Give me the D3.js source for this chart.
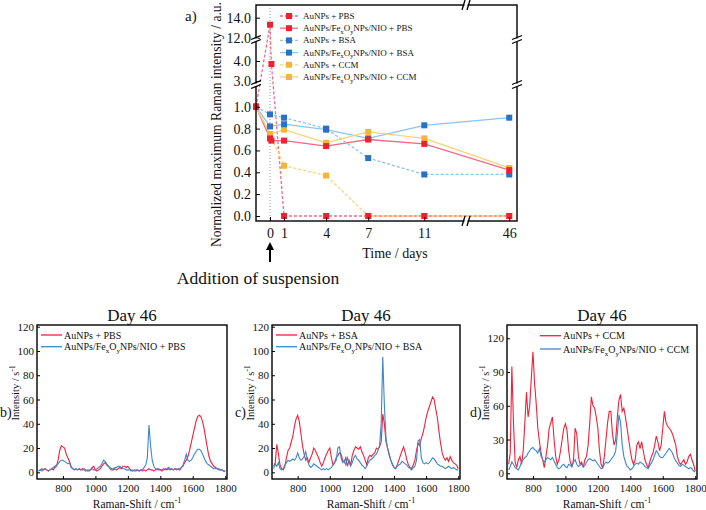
<!DOCTYPE html>
<html><head><meta charset="utf-8">
<script src="https://cdn.jsdelivr.net/npm/d3@7"></script>
<style>
body{margin:0;background:#fff}
svg{display:block}
text{font-family:"Liberation Serif","Times New Roman",serif;fill:#111}
</style>
</head><body><svg id="c" width="706" height="510"></svg>
<script>
// ---------- Panel a data ----------
const aDayTicks = [0, 1, 4, 7, 11, 46];
const aYTicks = [0, 0.2, 0.4, 0.6, 0.8, 1.0, 3.0, 4.0, 12.0, 14.0];
const aNames = ["AuNPs + PBS", "AuNPs/Fe_{x}O_{y}NPs/NIO + PBS", "AuNPs + BSA",
  "AuNPs/Fe_{x}O_{y}NPs/NIO + BSA", "AuNPs + CCM", "AuNPs/Fe_{x}O_{y}NPs/NIO + CCM"];
const pbsAuDays = [-1, 0, 0.1, 1, 4, 7, 11, 46];
const pbsAuVals = [1.0, 13.3, 3.85, 0, 0, 0, 0, 0];
const pbsFeDays = [-1, 0, 0.1, 1, 4, 7, 11, 46];
const pbsFeVals = [1.0, 0.71, 0.69, 0.69, 0.64, 0.70, 0.66, 0.42];
const bsaAuDays = [-1, 0, 1, 4, 7, 11, 46];
const bsaAuVals = [1.0, 0.93, 0.90, 0.80, 0.53, 0.38, 0.38];
const bsaFeDays = [-1, 0, 1, 4, 7, 11, 46];
const bsaFeVals = [1.0, 0.82, 0.84, 0.79, 0.71, 0.83, 0.90];
const ccmAuDays = [-1, 0, 1, 4, 7, 11, 46];
const ccmAuVals = [1.0, 0.75, 0.46, 0.37, 0, 0, 0];
const ccmFeDays = [-1, 0, 1, 4, 7, 11, 46];
const ccmFeVals = [1.0, 0.75, 0.79, 0.67, 0.77, 0.71, 0.44];

// ---------- Spectra data (Day 46) ----------
const shift = d3.range(650, 1801, 10);
const shiftTicks = [800, 1000, 1200, 1400, 1600, 1800];
const redB = [1,2,3,2,3,2,1,2,3,2, 4,5,10,18,22,21,20,15,12,9, 5,3,2,3,2,3,2,3,2,1,
  2,1,2,4,5,2,1,2,3,5, 7,8,6,5,3,2,2,3,2,3, 4,3,5,5,4,5,3,2,1,2,
  1,2,1,2,1,2,1,2,3,2, 2,1,2,3,2,2,1,2,3,2, 3,2,3,2,3,2,3,2,4,5,
  8,10,13,18,24,30,36,42,46,47, 46,42,36,28,20,13,9,7,5,4, 3,3,2,2,1,1];
const bluB = [1,2,1,2,3,2,1,2,3,4, 5,6,7,9,10,10,9,8,7,8, 4,3,2,3,2,3,2,2,3,2,
  1,2,2,3,2,2,3,4,5,7, 10,9,7,5,4,3,3,4,4,5, 5,4,3,3,2,2,2,1,2,1,
  2,2,1,2,2,4,6,12,39,22, 10,5,3,2,3,2,2,3,2,3, 4,3,3,2,3,3,2,3,4,6,
  10,15,10,9,10,12,15,17,19,19, 18,15,12,9,7,6,5,4,3,3, 3,2,2,2,1,1];
const redC = [5,8,23,15,6,3,2,5,12,18, 20,25,30,38,44,47,42,32,22,15, 10,12,8,12,15,20,18,15,12,8,
  5,8,12,15,18,20,12,6,8,12, 14,16,15,10,8,12,5,10,6,14, 18,21,20,19,21,17,14,10,6,12,
  14,13,15,16,20,19,21,25,48,40, 25,20,15,10,6,4,3,6,10,14, 18,21,16,10,6,4,3,6,10,18,
  24,22,28,32,38,45,50,54,58,62, 60,52,45,34,24,16,12,10,12,9, 13,10,8,7,6,3];
const bluC = [3,7,5,8,3,2,3,6,8,10, 9,10,11,10,12,16,12,10,11,13, 17,10,6,4,5,7,6,5,4,3,
  2,3,2,3,2,3,4,6,8,10, 20,21,12,8,10,6,12,8,5,8, 12,14,11,10,8,6,5,3,5,8,
  10,11,12,14,15,18,22,40,95,55, 28,20,14,10,7,4,3,5,6,7, 9,8,7,6,4,3,2,4,5,10,
  26,27,12,8,7,8,7,8,10,12, 11,9,7,6,5,5,4,3,4,5, 4,3,4,3,2,2];
const redD = [8,18,95,45,10,5,12,15,8,20, 45,72,50,60,85,108,80,62,40,28, 18,12,5,15,25,40,45,50,30,15,
  8,12,20,30,40,44,38,20,10,6, 12,40,35,15,8,10,5,12,15,25, 45,68,60,58,50,40,20,8,5,15,
  30,45,55,55,35,25,30,50,65,70, 55,58,50,40,30,20,12,8,12,25, 28,22,28,20,12,8,5,10,15,18,
  25,33,28,20,25,40,55,45,42,40, 38,35,30,25,15,10,8,10,12,8, 10,15,17,12,8,2];
const bluD = [3,6,10,8,5,4,3,6,10,12, 14,15,18,20,22,23,21,20,18,22, 15,12,10,12,14,13,12,14,11,8,
  5,4,5,7,8,6,5,8,7,6, 10,12,8,6,7,8,6,7,10,12, 13,12,11,12,10,8,6,4,5,8,
  10,9,10,12,14,16,20,35,52,45, 25,15,10,6,5,3,4,6,8,9, 8,10,9,8,6,5,4,7,9,12,
  16,20,18,15,14,14,16,18,20,22, 20,18,14,11,9,7,6,8,7,6, 5,4,5,4,2,1];
const namesB = ["AuNPs + PBS", "AuNPs/Fe_{x}O_{y}NPs/NIO + PBS"];
const namesC = ["AuNPs + BSA", "AuNPs/Fe_{x}O_{y}NPs/NIO + BSA"];
const namesD = ["AuNPs + CCM", "AuNPs/Fe_{x}O_{y}NPs/NIO + CCM"];
const ticksBC = [0, 20, 40, 60, 80, 100, 120];
const ticksD = [0, 30, 60, 90, 120];

// ---------- helpers ----------
const svg = d3.select("#c");
function rich(t, str, fs) {
  const parts = str.split(/([_^]\{[^}]*\})/).filter(s => s.length);
  let cur = 0;
  parts.forEach(p => {
    if (p[0] === "_" || p[0] === "^") {
      const d = p[0] === "_" ? fs * 0.3 : -fs * 0.4;
      t.append("tspan").attr("font-size", fs * 0.7).attr("dy", d - cur).text(p.slice(2, -1));
      cur = d;
    } else {
      t.append("tspan").attr("dy", -cur).text(p);
      cur = 0;
    }
  });
}
function styleAxis(g, fs) {
  g.select(".domain").remove();
  g.selectAll("line").attr("stroke", "#000").attr("stroke-width", 1);
  g.selectAll("text").attr("font-size", fs).attr("fill", "#111")
    .style("font-family", '"Liberation Serif","Times New Roman",serif');
}

// ---------- Panel a ----------
const aL = 256, aR = 517, aT = 5, aB = 221;
const ax = d3.scaleLinear().domain([-1, 13.9, 43, 46.55]).range([aL, 465, 467, aR]);
const ay = d3.scaleLinear().domain([-0.046, 1.19, 2.85, 5.0, 11.87, 15.27]).range([aB, 86, 84, 41, 39, aT]);
const gA = svg.append("g");
gA.append("line").attr("x1", ax(0)).attr("x2", ax(0)).attr("y1", aT).attr("y2", aB)
  .attr("stroke", "#9a9a9a").attr("stroke-width", 1).attr("stroke-dasharray", "1,2");

const aSeries = [
  {days: pbsAuDays, vals: pbsAuVals, line: "#f06a85", mark: "#f0202f", dash: true},
  {days: pbsFeDays, vals: pbsFeVals, line: "#f06a85", mark: "#f0202f", dash: false},
  {days: bsaAuDays, vals: bsaAuVals, line: "#8cc4ea", mark: "#2a70c4", dash: true},
  {days: bsaFeDays, vals: bsaFeVals, line: "#8cc4ea", mark: "#2a70c4", dash: false},
  {days: ccmAuDays, vals: ccmAuVals, line: "#fbd277", mark: "#f5b43a", dash: true},
  {days: ccmFeDays, vals: ccmFeVals, line: "#fbd277", mark: "#f5b43a", dash: false}
];
const lineGen = d3.line().x(d => ax(d[0])).y(d => ay(d[1]));
aSeries.forEach(s => {
  gA.append("path").datum(s.days.map((d, i) => [d, s.vals[i]]))
    .attr("d", lineGen).attr("fill", "none").attr("stroke", s.line).attr("stroke-width", 1.3)
    .attr("stroke-dasharray", s.dash ? "3,2" : null);
});
aSeries.slice().reverse().forEach(s => {
  gA.selectAll(null).data(s.days.map((d, i) => [d, s.vals[i]])).enter().append("rect")
    .attr("x", d => ax(d[0]) - 3).attr("y", d => ay(d[1]) - 3).attr("width", 6).attr("height", 6)
    .attr("fill", s.mark);
});
// axes
const gAy = gA.append("g").attr("transform", `translate(${aL},0)`)
  .call(d3.axisLeft(ay).tickValues(aYTicks).tickFormat(d3.format(".1f")).tickSizeInner(-4).tickSizeOuter(0).tickPadding(5));
styleAxis(gAy, 14);
const gAx = gA.append("g").attr("transform", `translate(0,${aB})`)
  .call(d3.axisBottom(ax).tickValues(aDayTicks).tickFormat(d3.format("d")).tickSizeInner(-4).tickSizeOuter(0).tickPadding(7));
styleAxis(gAx, 14);
gA.append("rect").attr("x", aL).attr("y", aT).attr("width", aR - aL).attr("height", aB - aT)
  .attr("fill", "none").attr("stroke", "#000").attr("stroke-width", 1.4);
// breaks
function vBreak(x, y) {
  gA.append("rect").attr("x", x - 2).attr("y", y - 1.5).attr("width", 4).attr("height", 3).attr("fill", "#fff");
  gA.append("line").attr("x1", x - 5).attr("y1", y - 0.5).attr("x2", x + 5).attr("y2", y - 4.5).attr("stroke", "#000").attr("stroke-width", 1.3);
  gA.append("line").attr("x1", x - 5).attr("y1", y + 3.5).attr("x2", x + 5).attr("y2", y - 0.5).attr("stroke", "#000").attr("stroke-width", 1.3);
}
function hBreak(x, y) {
  gA.append("rect").attr("x", x - 1.5).attr("y", y - 2).attr("width", 3).attr("height", 4).attr("fill", "#fff");
  gA.append("line").attr("x1", x - 4).attr("y1", y + 5).attr("x2", x - 1).attr("y2", y - 5).attr("stroke", "#000").attr("stroke-width", 1.3);
  gA.append("line").attr("x1", x + 1).attr("y1", y + 5).attr("x2", x + 4).attr("y2", y - 5).attr("stroke", "#000").attr("stroke-width", 1.3);
}
[(ay(1.19) + ay(2.85)) / 2, (ay(5.0) + ay(11.87)) / 2].forEach(y => { vBreak(aL, y); vBreak(aR, y); });
const bx = (ax(13.9) + ax(43)) / 2;
hBreak(bx, aT); hBreak(bx, aB);
// legend
aNames.forEach((n, i) => {
  const s = aSeries[i], y = 16 + i * 12.2;
  gA.append("line").attr("x1", 280).attr("x2", 298).attr("y1", y).attr("y2", y)
    .attr("stroke", s.line).attr("stroke-width", 1.3).attr("stroke-dasharray", s.dash ? "3,2" : null);
  gA.append("rect").attr("x", 286).attr("y", y - 3).attr("width", 6).attr("height", 6).attr("fill", s.mark);
  const t = gA.append("text").attr("x", 303).attr("y", y + 3).attr("font-size", 9);
  rich(t, n, 9);
});
// labels
gA.append("text").attr("x", 185).attr("y", 21).attr("font-size", 15).text("a)");
gA.append("text").attr("transform", "translate(221,124.5) rotate(-90)").attr("text-anchor", "middle")
  .attr("font-size", 13.6).text("Normalized maximum Raman intensity / a.u.");
gA.append("text").attr("x", 395).attr("y", 258).attr("text-anchor", "middle").attr("font-size", 14).text("Time / days");
gA.append("text").attr("x", 258).attr("y", 284).attr("text-anchor", "middle").attr("font-size", 17.5).text("Addition of suspension");
// arrow
gA.append("line").attr("x1", ax(0)).attr("x2", ax(0)).attr("y1", 262).attr("y2", 248).attr("stroke", "#000").attr("stroke-width", 2);
gA.append("path").attr("d", `M${ax(0)},242 L${ax(0) - 4},250 L${ax(0) + 4},250 Z`).attr("fill", "#000");

// ---------- Panels b, c, d ----------
const panels = [
  {L: 37, R: 227, yDom: [-5.5, 121.4], ticks: ticksBC, red: redB, blue: bluB, names: namesB, tag: "b)", tagX: 0, legX: 41, legY: [335, 346.7], ylabX: 19},
  {L: 272, R: 460, yDom: [-5.5, 121.4], ticks: ticksBC, red: redC, blue: bluC, names: namesC, tag: "c)", tagX: 235, legX: 276, legY: [335, 346.7], ylabX: 254},
  {L: 507, R: 697, yDom: [-5.1, 131.8], ticks: ticksD, red: redD, blue: bluD, names: namesD, tag: "d)", tagX: 470, legX: 540, legY: [335.7, 349], ylabX: 489}
];
const pT = 325, pB = 479;
panels.forEach(p => {
  const g = svg.append("g");
  const x = d3.scaleLinear().domain([640, 1811]).range([p.L, p.R]);
  const y = d3.scaleLinear().domain(p.yDom).range([pB, pT]);
  const ln = d3.line().x((d, i) => x(shift[i])).y(d => y(d));
  g.append("path").datum(p.red).attr("d", ln).attr("fill", "none").attr("stroke", "#f0213a").attr("stroke-width", 1.1);
  g.append("path").datum(p.blue).attr("d", ln).attr("fill", "none").attr("stroke", "#3b87cc").attr("stroke-width", 1.1);
  const gy = g.append("g").attr("transform", `translate(${p.L},0)`)
    .call(d3.axisLeft(y).tickValues(p.ticks).tickFormat(d3.format("d")).tickSizeInner(-3).tickSizeOuter(0).tickPadding(3));
  styleAxis(gy, 11);
  const gx = g.append("g").attr("transform", `translate(0,${pB})`)
    .call(d3.axisBottom(x).tickValues(shiftTicks).tickFormat(d3.format("d")).tickSizeInner(-3).tickSizeOuter(0).tickPadding(5));
  styleAxis(gx, 11);
  g.append("rect").attr("x", p.L).attr("y", pT).attr("width", p.R - p.L).attr("height", pB - pT)
    .attr("fill", "none").attr("stroke", "#000").attr("stroke-width", 1.4);
  [["#f0213a", p.names[0]], ["#3b87cc", p.names[1]]].forEach((e, i) => {
    const yy = p.legY[i];
    g.append("line").attr("x1", p.legX).attr("x2", p.legX + 21).attr("y1", yy).attr("y2", yy).attr("stroke", e[0]).attr("stroke-width", 1.3);
    const t = g.append("text").attr("x", p.legX + 23).attr("y", yy + 3.5).attr("font-size", 10);
    rich(t, e[1], 10);
  });
  const cx = (p.L + p.R) / 2;
  g.append("text").attr("x", cx).attr("y", 321).attr("text-anchor", "middle").attr("font-size", 17).text("Day 46");
  g.append("text").attr("x", p.tagX).attr("y", 417).attr("font-size", 14).text(p.tag);
  const xl = g.append("text").attr("x", cx + 5).attr("y", 508).attr("text-anchor", "middle").attr("font-size", 11.5);
  rich(xl, "Raman-Shift / cm^{-1}", 11.5);
  const yl = g.append("text").attr("transform", `translate(${p.ylabX},393) rotate(-90)`).attr("text-anchor", "middle").attr("font-size", 10.5);
  rich(yl, "Intensity / s^{-1}", 10.5);
});
</script></body></html>
